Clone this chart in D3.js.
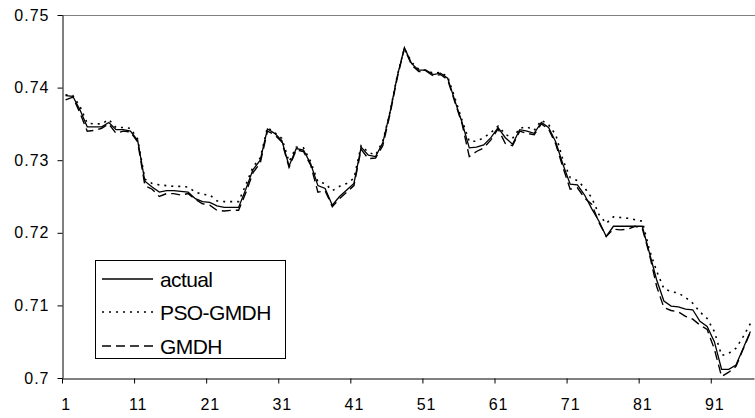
<!DOCTYPE html>
<meta charset="utf-8">
<style>
  body { margin: 0; background: #fff; }
  text { font-family: "Liberation Sans", Arial, sans-serif; }
</style>
<script src="https://cdn.jsdelivr.net/npm/d3@7"></script>
<div id="chart"></div>
<script>
  // series values, one per observation (1..96)
  var actual = [
    0.7389, 0.7388, 0.7369, 0.7346, 0.7346, 0.7346, 0.7352, 0.7342, 0.7342, 0.7340,
    0.7327, 0.7271, 0.7263, 0.7256, 0.7258, 0.7258, 0.7257, 0.7256, 0.7247, 0.7243,
    0.7242, 0.7237, 0.7235, 0.7235, 0.7235, 0.7260, 0.7287, 0.7300, 0.7343, 0.7337,
    0.7327, 0.7292, 0.7316, 0.7314, 0.7295, 0.7265, 0.7261, 0.7238, 0.7250, 0.7259,
    0.7268, 0.7318, 0.7307, 0.7305, 0.7324, 0.7366, 0.7415, 0.7455, 0.7433, 0.7424,
    0.7424, 0.7418, 0.7420, 0.7413, 0.7382, 0.7352, 0.7317, 0.7318, 0.7321, 0.7331,
    0.7345, 0.7331, 0.7322, 0.7342, 0.7340, 0.7337, 0.7352, 0.7345, 0.7325, 0.7294,
    0.7267, 0.7266, 0.7252, 0.7233, 0.7216, 0.7195, 0.7209, 0.7209, 0.7209, 0.7209,
    0.7209, 0.7172, 0.7135, 0.7106, 0.7099, 0.7098, 0.7095, 0.7094, 0.7078, 0.7071,
    0.7050, 0.7012, 0.7012, 0.7018, 0.7041, 0.7064
  ];
  var psoGmdh = [
    0.7390, 0.7389, 0.7374, 0.7351, 0.7350, 0.7350, 0.7356, 0.7345, 0.7345, 0.7344,
    0.7329, 0.7274, 0.7268, 0.7266, 0.7265, 0.7264, 0.7264, 0.7263, 0.7256, 0.7253,
    0.7252, 0.7244, 0.7243, 0.7243, 0.7243, 0.7266, 0.7291, 0.7303, 0.7345, 0.7338,
    0.7330, 0.7298, 0.7318, 0.7317, 0.7298, 0.7270, 0.7268, 0.7258, 0.7264, 0.7268,
    0.7275, 0.7320, 0.7311, 0.7307, 0.7326, 0.7366, 0.7416, 0.7454, 0.7435, 0.7425,
    0.7424, 0.7420, 0.7421, 0.7415, 0.7386, 0.7355, 0.7326, 0.7326, 0.7331, 0.7338,
    0.7347, 0.7336, 0.7330, 0.7344, 0.7346, 0.7341, 0.7355, 0.7349, 0.7335, 0.7300,
    0.7276, 0.7272, 0.7262, 0.7248, 0.7225, 0.7213, 0.7222, 0.7221, 0.7220, 0.7218,
    0.7216, 0.7176, 0.7147, 0.7123, 0.7119, 0.7117, 0.7111, 0.7103, 0.7091, 0.7082,
    0.7064, 0.7031, 0.7034, 0.7041, 0.7057, 0.7075
  ];
  var gmdh = [
    0.7383, 0.7387, 0.7365, 0.7340, 0.7341, 0.7344, 0.7350, 0.7337, 0.7340, 0.7339,
    0.7325, 0.7265, 0.7260, 0.7250, 0.7254, 0.7254, 0.7252, 0.7254, 0.7246, 0.7240,
    0.7238, 0.7231, 0.7230, 0.7231, 0.7231, 0.7255, 0.7283, 0.7296, 0.7340, 0.7335,
    0.7325, 0.7290, 0.7314, 0.7312, 0.7293, 0.7256, 0.7258, 0.7236, 0.7247, 0.7256,
    0.7265, 0.7315, 0.7302, 0.7303, 0.7320, 0.7363, 0.7413, 0.7454, 0.7431, 0.7422,
    0.7423, 0.7416, 0.7418, 0.7411, 0.7380, 0.7350, 0.7305, 0.7312, 0.7317, 0.7328,
    0.7343, 0.7323, 0.7320, 0.7340, 0.7337, 0.7335, 0.7350, 0.7343, 0.7322, 0.7290,
    0.7260, 0.7262, 0.7248, 0.7239, 0.7214, 0.7195, 0.7205, 0.7204, 0.7205, 0.7209,
    0.7206, 0.7170, 0.7126, 0.7097, 0.7093, 0.7091, 0.7085, 0.7081, 0.7073, 0.7067,
    0.7040, 0.7002, 0.7008, 0.7016, 0.7040, 0.7063
  ];

  // axis ticks and legend names
  var xTickLabels = [1, 11, 21, 31, 41, 51, 61, 71, 81, 91];
  var yTicks = [0.70, 0.71, 0.72, 0.73, 0.74, 0.75];
  var seriesNames = ["actual", "PSO-GMDH", "GMDH"];

  var width = 755, height = 418;
  var plotLeft = 62, plotRight = 754, plotTop = 15, plotBottom = 378;

  var svg = d3.select("#chart").append("svg")
    .attr("width", width)
    .attr("height", height);

  svg.append("rect").attr("width", width).attr("height", height).attr("fill", "#fff");

  // categories sit in the middle of their slot (Excel "between tick marks")
  var x = d3.scaleLinear().domain([0.5, actual.length + 0.5]).range([plotLeft, plotRight]);
  var y = d3.scaleLinear().domain([0.70, 0.75]).range([plotBottom, plotTop]);

  // grey plot border on top
  svg.append("line")
    .attr("x1", plotLeft).attr("x2", width)
    .attr("y1", y(0.75) + 0.5).attr("y2", y(0.75) + 0.5)
    .attr("stroke", "#808080").attr("stroke-width", 1.2);

  // y axis
  var yAxis = svg.append("g")
    .attr("transform", "translate(" + (plotLeft + 0.5) + ",0)")
    .call(d3.axisLeft(y)
      .tickValues(yTicks)
      .tickSize(5)
      .tickSizeOuter(0)
      .tickPadding(8)
      .tickFormat(function (d) { return String(+d.toFixed(2)); }));
  yAxis.selectAll("text").style("font-size", "16px").style("letter-spacing", "1px").attr("fill", "#000");

  // x axis: tick marks on category boundaries, labels on categories
  var slotTicks = xTickLabels.map(function (d) { return d - 0.5; });
  svg.append("g")
    .attr("transform", "translate(0," + (plotBottom + 0.5) + ")")
    .call(d3.axisBottom(x)
      .tickValues(slotTicks)
      .tickSize(5)
      .tickSizeOuter(0)
      .tickFormat(""));

  var xLabels = svg.append("g")
    .attr("transform", "translate(0," + plotBottom + ")")
    .call(d3.axisBottom(x)
      .tickValues(xTickLabels)
      .tickSize(0)
      .tickPadding(21)
      .tickFormat(d3.format("d")));
  xLabels.select(".domain").remove();
  xLabels.selectAll("text").style("font-size", "16px").style("letter-spacing", "1px").attr("fill", "#000");

  svg.selectAll(".domain, .tick line").attr("stroke", "#000");

  // lines
  var line = d3.line()
    .x(function (d, i) { return x(i + 1); })
    .y(function (d) { return y(d); });

  var styles = [
    { data: actual, dash: null, w: 1.3 },
    { data: psoGmdh, dash: "2,5", w: 1.6 },
    { data: gmdh, dash: "9,5", w: 1.4 }
  ];

  styles.forEach(function (s) {
    svg.append("path")
      .datum(s.data)
      .attr("d", line)
      .attr("fill", "none")
      .attr("stroke", "#000")
      .attr("stroke-width", s.w)
      .attr("stroke-dasharray", s.dash);
  });

  // legend
  var legend = svg.append("g").attr("transform", "translate(95,260)");
  legend.append("rect")
    .attr("x", 0.5).attr("y", 0.5)
    .attr("width", 190).attr("height", 98)
    .attr("fill", "#fff")
    .attr("stroke", "#000");

  var rowY = [19, 52, 86];
  seriesNames.forEach(function (name, i) {
    legend.append("line")
      .attr("x1", 7).attr("x2", 58)
      .attr("y1", rowY[i]).attr("y2", rowY[i])
      .attr("stroke", "#000")
      .attr("stroke-width", styles[i].w)
      .attr("stroke-dasharray", styles[i].dash);
    legend.append("text")
      .attr("x", 65)
      .attr("y", rowY[i] + 8)
      .style("font-size", "21px")
      .style("letter-spacing", "-0.6px")
      .text(name);
  });
</script>
